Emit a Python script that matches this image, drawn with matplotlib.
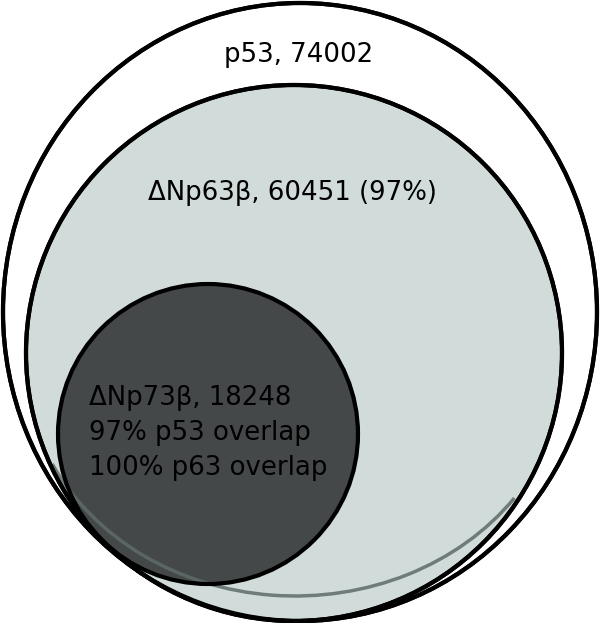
import matplotlib
matplotlib.use("Agg")
import matplotlib.pyplot as plt
from matplotlib.patches import Ellipse, Circle, Arc

# ---- data ----
set_names = ["p53", "\u0394Np63\u03b2", "\u0394Np73\u03b2"]
set_counts = [74002, 60451, 18248]
p63_pct_of_p53 = [97]
p73_overlap_names = ["p53", "p63"]
p73_overlap_pct = [97, 100]

# ---- figure ----
W, H = 600, 623
fig = plt.figure(figsize=(W / 100, H / 100), dpi=100)
ax = fig.add_axes([0, 0, 1, 1])
ax.set_xlim(0, W)
ax.set_ylim(H, 0)
ax.axis("off")

black = "#000000"
light = "#d1dcda"
dark = "#444849"
lw = 3.0

# p53 outer set
ax.add_patch(Ellipse((300, 312), 594, 618, facecolor="white", edgecolor=black, lw=lw, zorder=1))
# p63 set
ax.add_patch(Circle((294, 353), 268, facecolor=light, edgecolor=black, lw=lw, zorder=2))
# p73 set fill
ax.add_patch(Circle((208, 434), 150, facecolor=dark, edgecolor="none", zorder=3))
# faint grey arc near the bottom
ax.add_patch(Arc((295, 361), 540, 470, theta1=32, theta2=157, color="#5f6b69", lw=2.5, alpha=0.85, zorder=4))
# p73 outline
ax.add_patch(Circle((208, 434), 150, facecolor="none", edgecolor=black, lw=lw, zorder=5))
# re-draw outer outlines on top
ax.add_patch(Ellipse((300, 312), 594, 618, facecolor="none", edgecolor=black, lw=lw, zorder=6))
ax.add_patch(Circle((294, 353), 268, facecolor="none", edgecolor=black, lw=lw, zorder=6))

fs = 18.7
font = ["DejaVu Sans"]
tc = "#000000"

ax.text(298.5, 62, f"{set_names[0]}, {set_counts[0]}", ha="center", va="baseline",
        fontsize=fs, family=font, color=tc, zorder=10)
ax.text(292.5, 200, f"{set_names[1]}, {set_counts[1]} ({p63_pct_of_p53[0]}%)", ha="center",
        va="baseline", fontsize=fs, family=font, color=tc, zorder=10)

lines = [f"{set_names[2]}, {set_counts[2]}"] + [
    f"{p}% {n} overlap" for p, n in zip(p73_overlap_pct, p73_overlap_names)
]
for i, s in enumerate(lines):
    ax.text(89, 405 + 35 * i, s, ha="left", va="baseline", fontsize=fs, family=font,
            color=tc, zorder=10)

fig.savefig("out.png", dpi=100)
